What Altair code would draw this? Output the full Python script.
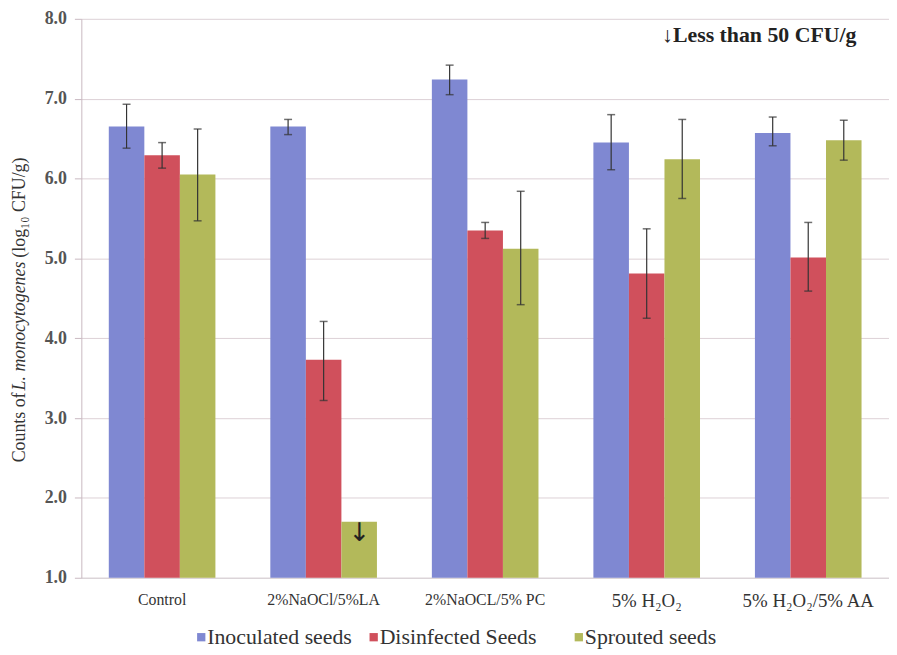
import altair as alt
import pandas as pd

categories = ["Control", "2%NaOCl/5%LA", "2%NaOCL/5% PC", "5% H₂O₂", "5% H₂O₂/5% AA"]
series = ["Inoculated seeds", "Disinfected Seeds", "Sprouted seeds"]
colors = ["#7f88d2", "#d0505c", "#b3b95a"]

inoculated = [6.65, 6.65, 7.24, 6.45, 6.57]
inoc_lo = [6.38, 6.55, 7.05, 6.11, 6.41]
inoc_hi = [6.93, 6.74, 7.42, 6.80, 6.77]

disinfected = [6.29, 3.73, 5.35, 4.81, 5.01]
dis_lo = [6.13, 3.22, 5.25, 4.25, 4.59]
dis_hi = [6.45, 4.21, 5.45, 5.37, 5.45]

sprouted = [6.05, 1.70, 5.12, 6.24, 6.48]
spr_lo = [5.47, None, 4.42, 5.75, 6.23]
spr_hi = [6.62, None, 5.84, 6.74, 6.73]

title_parts = ["Counts of ", "L. monocytogenes", " (log₁₀ CFU/g)"]

rows = []
for s, vals, lo, hi in [
    (series[0], inoculated, inoc_lo, inoc_hi),
    (series[1], disinfected, dis_lo, dis_hi),
    (series[2], sprouted, spr_lo, spr_hi),
]:
    for c, v, l, h in zip(categories, vals, lo, hi):
        rows.append({"cat": c, "series": s, "value": v, "lo": l, "hi": h})
df = pd.DataFrame(rows)
err = df.dropna(subset=["lo", "hi"])
below = df[df["lo"].isna()]

FONT = "Liberation Serif"
color_scale = alt.Scale(domain=series, range=colors)

x = alt.X("cat:N", sort=categories, title=None,
          scale=alt.Scale(paddingInner=0.34, paddingOuter=0.17),
          axis=alt.Axis(labelAngle=0, ticks=False, labelPadding=14,
                        labelFontSize={"expr": "indexof(datum.label, 'H') >= 0 ? 19 : 16"},
                        labelFont=FONT, labelColor="#333", domainColor="#d8d0d4"))
xo = alt.XOffset("series:N", sort=series, scale=alt.Scale(domain=series, paddingInner=0, paddingOuter=0))
yscale = alt.Scale(domain=[1, 8], zero=False, nice=False)

bars = alt.Chart(df).mark_bar().encode(
    x=x,
    xOffset=xo,
    y=alt.Y("value:Q", scale=yscale, title=None,
            axis=alt.Axis(values=[1, 2, 3, 4, 5, 6, 7, 8], format=".1f",
                          labelFont=FONT, labelFontSize=18, labelFontWeight="bold",
                          labelColor="#555", labelPadding=8, tickSize=7,
                          tickColor="#c8b8c0", domainColor="#c8b8c0",
                          gridColor="#ddd0d6")),
    y2=alt.datum(1),
    color=alt.Color("series:N", sort=series, scale=color_scale, legend=None),
)

rules = alt.Chart(err).mark_rule(color="#333", strokeWidth=1.2).encode(
    x=alt.X("cat:N", sort=categories), xOffset=xo,
    y=alt.Y("lo:Q", scale=yscale), y2="hi:Q",
)
cap_hi = alt.Chart(err).mark_tick(color="#333", thickness=1.5, size=8, orient="horizontal").encode(
    x=alt.X("cat:N", sort=categories), xOffset=xo, y=alt.Y("hi:Q", scale=yscale),
)
cap_lo = alt.Chart(err).mark_tick(color="#333", thickness=1.5, size=8, orient="horizontal").encode(
    x=alt.X("cat:N", sort=categories), xOffset=xo, y=alt.Y("lo:Q", scale=yscale),
)

arrow = alt.Chart(below).mark_text(text="↓", font="DejaVu Sans", fontSize=26,
                                    baseline="top", dy=-2, color="#222").encode(
    x=alt.X("cat:N", sort=categories), xOffset=xo, y=alt.Y("value:Q", scale=yscale),
)

note = alt.Chart(pd.DataFrame({"t": ["↓Less than 50 CFU/g"]})).mark_text(
    font=FONT, fontSize=22, fontWeight="bold", align="left", color="#222"
).encode(text="t:N", x=alt.value(586), y=alt.datum(7.8))

tdf = pd.DataFrame({"t": title_parts})
t1 = alt.Chart(tdf.iloc[[0]]).mark_text(font=FONT, fontSize=18, angle=270, align="right",
                                        baseline="middle", color="#333").encode(
    text="t:N", x=alt.value(-62), y=alt.value(377))
t2 = alt.Chart(tdf.iloc[[1]]).mark_text(font=FONT, fontSize=18, angle=270, align="center",
                                        fontStyle="italic", baseline="middle", color="#333").encode(
    text="t:N", x=alt.value(-62), y=alt.value(310))
t3 = alt.Chart(tdf.iloc[[2]]).mark_text(font=FONT, fontSize=18, angle=270, align="left",
                                        baseline="middle", color="#333").encode(
    text="t:N", x=alt.value(-62), y=alt.value(241))

# manual legend (layout positions in pixels, relative to the plot area)
legend_sq_x = [121, 295, 502]
legend_y = 624
leg_layers = []
for i, s in enumerate(series):
    ldf = pd.DataFrame({"series": [s]})
    leg_layers.append(alt.Chart(ldf).mark_square(size=70, opacity=1).encode(
        x=alt.value(legend_sq_x[i]), y=alt.value(legend_y),
        color=alt.Color("series:N", scale=color_scale, legend=None)))
    leg_layers.append(alt.Chart(ldf).mark_text(font=FONT, fontSize=22,
                                               align="left", baseline="middle",
                                               color="#333").encode(
        text="series:N", x=alt.value(legend_sq_x[i] + 6), y=alt.value(legend_y)))

chart = alt.layer(bars, rules, cap_hi, cap_lo, arrow, note, t1, t2, t3, *leg_layers).properties(
    width=815, height=564,
    autosize=alt.AutoSizeParams(type="none"),
    padding={"left": 74, "top": 8, "right": 0, "bottom": 72},
).configure(font=FONT).configure_view(stroke=None).configure_axis(grid=True).configure_axisX(
    grid=False)

chart.save("out.html", embed_options={"renderer": "svg", "actions": False})
